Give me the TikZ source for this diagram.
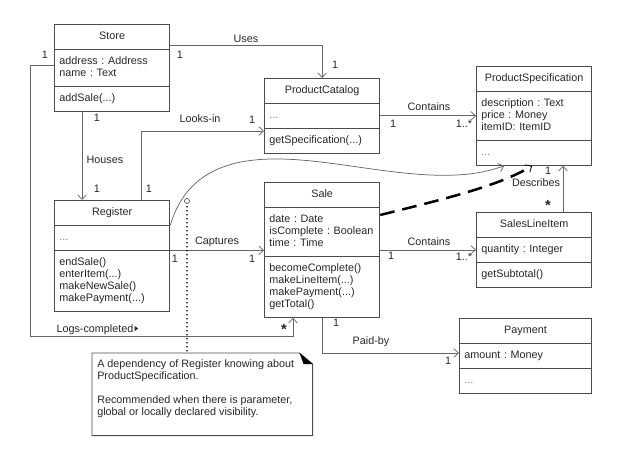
\documentclass[tikz,border=0pt]{standalone}
\usepackage{fontspec}
\setmainfont{Liberation Sans}
\frenchspacing
\usetikzlibrary{shapes.multipart,arrows.meta}
\tikzset{
  umlclass/.style={rectangle split, rectangle split parts=3, draw=black!70, line width=0.7pt,
    text width=79pt, inner xsep=3.75pt, inner ysep=4.5pt, anchor=north west, align=left,
    font=\fontsize{8.1}{9}\selectfont, text=black!85},
  assoc/.style={draw=black!60, line width=0.55pt, -{Straight Barb[length=3.5pt,width=6.5pt]}},
  lbl/.style={font=\fontsize{8.1}{9}\selectfont, text=black!85, inner sep=0pt},
  star/.style={font=\fontsize{11}{11}\bfseries\selectfont, text=black!85, inner sep=0pt},
}
\def\umlclass[#1](#2)(#3)#4#5#6{\node[umlclass,#1] (#2) at (#3) {\strut\hfill#4\hfill\strut\nodepart{two}\strut#5\strut\nodepart{three}\strut#6\strut};}
\def\dots{\textcolor{black!50}{...}}

\begin{document}
\begin{tikzpicture}[x=0.75pt, y=-0.75pt]
			%%%%% START %%%%%
			\useasboundingbox (0,0) rectangle (634,452);
			
			\umlclass[](store)(54,24){Store}{address : Address\\name : Text}{addSale(...)}
			\umlclass[](catalog)(264,78){ProductCatalog}{\dots}{getSpecification(...)}
			\umlclass[](spec)(476,66){ProductSpecification}{description : Text\\price : Money\\itemID: ItemID}{\dots}
			\umlclass[](register)(54,200){Register}{\dots}{endSale()\\enterItem(...)\\makeNewSale()\\makePayment(...)}
			\umlclass[](sale)(264,182){Sale}{date : Date\\isComplete : Boolean\\time : Time}{becomeComplete()\\makeLineItem(...)\\makePayment(...)\\getTotal()}
			\umlclass[](item)(476,212){SalesLineItem}{quantity : Integer}{getSubtotal()}
			\umlclass[text width=91.5pt](payment)(459,318){Payment}{amount : Money}{\dots}
			
			% associations
			\draw[assoc] ([yshift=-15.75pt]store.north east) -| (catalog.north);
			\draw[assoc] ([xshift=21pt]store.south west) -- ([xshift=21pt]register.north west);
			\draw[assoc] ([xshift=65.25pt]register.north west) |- ([yshift=-39.75pt]catalog.north west);
			\draw[assoc] (catalog.east) -- (catalog.east -| spec.west);
			\draw[assoc] (register.two split east) -- (register.two split east -| sale.west);
			\draw[assoc] (sale.east) -- (sale.east -| item.west);
			\draw[assoc] ([xshift=65.25pt]item.north west) -- ([xshift=65.25pt]spec.south west);
			\draw[assoc] (sale.south) |- ([yshift=-26.25pt]payment.north west);
			\coordinate (bend) at (30,336);
			\draw[assoc] ([yshift=-30.75pt]store.north west) -| (bend) -| ([xshift=21.75pt]sale.south west);
			
			% dependencies
			\draw[assoc] (register.text split east) .. controls (185,175) and (225,158) .. (280,159) .. controls (350,160) and (440,190) .. ([xshift=21pt]spec.south west);
			\draw[line width=1.9pt, dash pattern=on 11pt off 6pt, -{Straight Barb[length=3.5pt,width=6.5pt,line width=0.6pt]}] ([yshift=-24.75pt]sale.north east) .. controls (440,200) and (500,186) .. ([xshift=42pt]spec.south west);
			
			% labels
			\node[lbl] (uses) at (246,39) {Uses};
			\node[lbl] (m1) at (180,55) {1};
			\node[lbl] (m2) at (45,55) {1};
			\node[lbl] (m3) at (335,65) {1};
			\node[lbl] (m4) at (97,118) {1};
			\node[lbl] (houses) at (105,160) {Houses};
			\node[lbl] (m5) at (97,189) {1};
			\node[lbl] (m6) at (149,189) {1};
			\node[lbl] (looks) at (200,119) {Looks-in};
			\node[lbl] (m7) at (252,120) {1};
			\node[lbl] (cont1) at (429,107) {Contains};
			\node[lbl] (m8) at (393,124) {1};
			\node[lbl] (m9) at (464,124) {1..*};
			\node[lbl] (capt) at (217,242) {Captures};
			\node[lbl] (m10) at (175,259) {1};
			\node[lbl] (m11) at (252,259) {1};
			\node[lbl] (cont2) at (429,242) {Contains};
			\node[lbl] (m12) at (391,256) {1};
			\node[lbl] (m13) at (464,257) {1..*};
			\node[lbl] (m14) at (548,171) {1};
			\node[lbl] (descr) at (536,183) {Describes};
			\node[star] (m15) at (548,205) {*};
			\node[lbl] (m16) at (336,323) {1};
			\node[lbl] (paid) at (371,342) {Paid-by};
			\node[lbl] (m17) at (448,361) {1};
			\node[star] (m18) at (284,329) {*};
			\node[lbl] (logs) at (95,330) {Logs-completed};
			\fill[black!85] ([shift={(0.75pt,3pt)}]logs.east) -- ++(0,5) -- ++(3.5,-2.5) -- cycle;
			
			% note
			\node[minimum width=165pt, minimum height=61.5pt, anchor=north west, inner sep=0pt] (note) at (92,353) {};
			\draw[draw=black!70, line width=0.7pt] (note.north west) -- ([xshift=-9.75pt]note.north east) -- ([yshift=-8.25pt]note.north east) -- (note.south east) -- (note.south west) -- cycle;
			\fill[black] ([xshift=-9.75pt]note.north east) -- ([shift={(-6.75pt,-8.25pt)}]note.north east) -- ([yshift=-8.25pt]note.north east) -- cycle;
			\node[lbl, anchor=north west, align=left] (notetext) at ([shift={(3.75pt,-4.5pt)}]note.north west) {A dependency of Register knowing about\\ProductSpecification.\\[9pt]Recommended when there is parameter,\\global or locally declared visibility.};
			\node[circle, draw=black!70, line width=0.5pt, inner sep=0pt, minimum size=3.75pt] (knob) at (187,201) {};
			\draw[line width=1.3pt, line cap=round, dash pattern=on 0pt off 3pt] (knob.south) ++(0,3) -- (knob |- note.north);
			
			%%%%% END %%%%%
\end{tikzpicture}
\end{document}
